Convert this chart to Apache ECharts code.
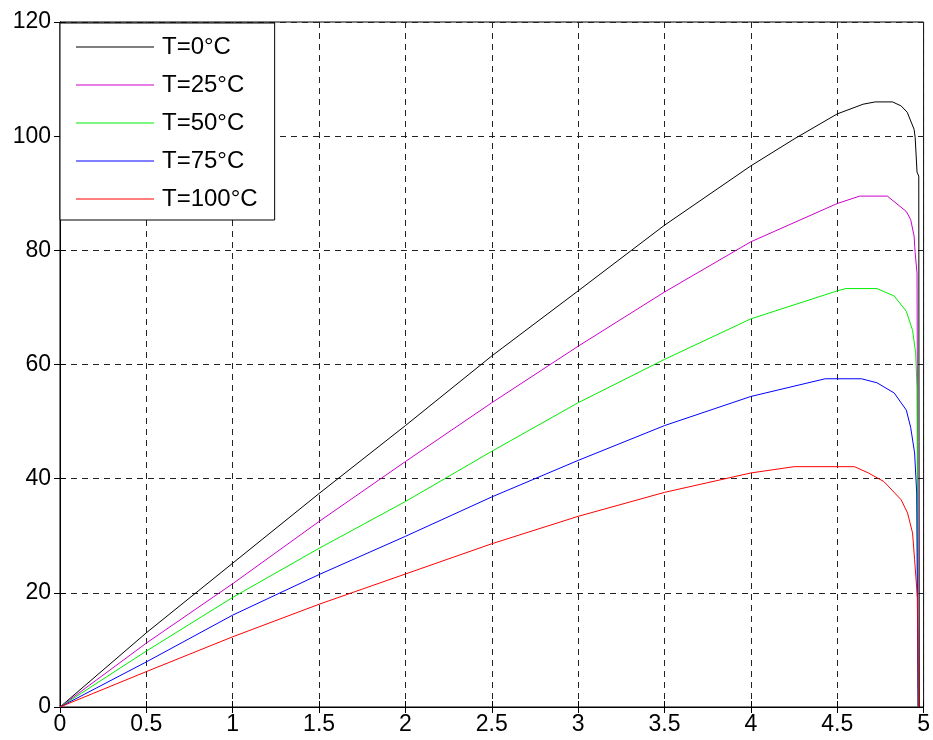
<!DOCTYPE html>
<html>
<head>
<meta charset="utf-8">
<script src="https://cdn.jsdelivr.net/npm/echarts@6/dist/echarts.min.js"></script>
<style>
  html, body { margin: 0; padding: 0; background: #fff; }
  #chart { width: 933px; height: 740px; }
</style>
</head>
<body>
<div id="chart"></div>
<script>
const names = ['T=0°C', 'T=25°C', 'T=50°C', 'T=75°C', 'T=100°C']
const colors = ['#000000', '#cc00cc', '#00ee00', '#0000ff', '#ff0000']

// x / y, one pair of arrays per curve
const x0 = [0, 0.5, 1, 1.5, 2, 2.5, 3, 3.5, 4, 4.25, 4.5, 4.65, 4.72, 4.82, 4.87, 4.905, 4.945, 4.951, 4.962, 4.972, 4.975]
const y0 = [0, 13, 25.2, 37.4, 49.3, 61.5, 72.9, 84.4, 94.8, 99.5, 103.9, 105.6, 106, 106, 105.3, 104.2, 101.2, 99.8, 93.7, 93, 0]

const x25 = [0, 0.5, 1, 1.5, 2, 2.5, 3, 3.5, 4, 4.5, 4.63, 4.79, 4.9, 4.925, 4.945, 4.951, 4.962, 4.97]
const y25 = [0, 11.2, 21.6, 32.5, 43.0, 53.3, 63.2, 72.7, 81.5, 88.2, 89.5, 89.5, 86.8, 85.4, 82.5, 79.6, 76, 0]

const x50 = [0, 0.5, 1, 1.5, 2, 2.5, 3, 3.5, 4, 4.5, 4.55, 4.73, 4.83, 4.9, 4.936, 4.954, 4.962, 4.968]
const y50 = [0, 9.8, 19.2, 27.8, 36.0, 44.8, 53.3, 60.9, 68.0, 72.9, 73.3, 73.3, 72, 69.3, 66, 62, 56, 0]

const x75 = [0, 0.5, 1, 1.5, 2, 2.5, 3, 3.5, 4, 4.43, 4.64, 4.73, 4.83, 4.9, 4.925, 4.948, 4.96, 4.968]
const y75 = [0, 7.9, 16.1, 23.2, 29.9, 36.8, 43.2, 49.3, 54.4, 57.5, 57.5, 56.8, 55, 52, 49, 44.5, 37.5, 0]

const x100 = [0, 0.5, 1, 1.5, 2, 2.5, 3, 3.5, 4, 4.25, 4.6, 4.68, 4.77, 4.87, 4.907, 4.936, 4.948, 4.965, 4.97]
const y100 = [0, 6.2, 12.3, 18, 23.3, 28.6, 33.4, 37.6, 41.0, 42.1, 42.1, 41, 39.5, 36.3, 34, 30.5, 25.8, 18.8, 0]

const xs = [x0, x25, x50, x75, x100]
const ys = [y0, y25, y50, y75, y100]

const font = 'Liberation Sans, Arial, sans-serif'

const chart = echarts.init(document.getElementById('chart'), null, { renderer: 'canvas' })

const gridLine = { show: true, lineStyle: { color: '#222', type: [6, 5], width: 1 } }
const labelStyle = { color: '#000', fontSize: 23, fontFamily: font }

chart.setOption({
  animation: false,
  backgroundColor: '#fff',
  grid: { left: 60, right: 7, top: 22, bottom: 33, show: true, borderColor: '#000', borderWidth: 1, backgroundColor: 'transparent' },
  legend: {
    orient: 'vertical',
    left: 60,
    top: 23,
    data: names,
    icon: 'rect',
    itemWidth: 78,
    itemHeight: 1,
    itemGap: 14,
    padding: [12, 17, 9, 16],
    backgroundColor: '#fff',
    borderColor: '#000',
    borderWidth: 1,
    textStyle: { color: '#000', fontSize: 24, fontFamily: font, padding: [0, 0, 0, 3] }
  },
  xAxis: [{
    type: 'value', min: 0, max: 5, interval: 0.5,
    axisLine: { show: true, onZero: false, lineStyle: { color: '#000' } },
    axisTick: { show: true, inside: true, length: 6, lineStyle: { color: '#000' } },
    axisLabel: Object.assign({ margin: 6 }, labelStyle),
    splitLine: gridLine
  }, {
    type: 'value', min: 0, max: 5, interval: 0.5, position: 'top',
    axisLine: { show: false },
    axisTick: { show: true, inside: true, length: 6, lineStyle: { color: '#000' } },
    axisLabel: { show: false },
    splitLine: { show: false }
  }],
  yAxis: [{
    type: 'value', min: 0, max: 120, interval: 20,
    axisLine: { show: true, onZero: false, lineStyle: { color: '#000' } },
    axisTick: { show: true, inside: true, length: 6, lineStyle: { color: '#000' } },
    axisLabel: Object.assign({ margin: 9 }, labelStyle),
    splitLine: gridLine
  }, {
    type: 'value', min: 0, max: 120, interval: 20, position: 'right',
    axisLine: { show: false },
    axisTick: { show: true, inside: true, length: 6, lineStyle: { color: '#000' } },
    axisLabel: { show: false },
    splitLine: { show: false }
  }],
  series: names.map((n, i) => ({
    name: n,
    type: 'line',
    symbol: 'none',
    color: colors[i],
    lineStyle: { width: 1, color: colors[i] },
    data: xs[i].map((x, j) => [x, ys[i][j]])
  }))
})
</script>
</body>
</html>
